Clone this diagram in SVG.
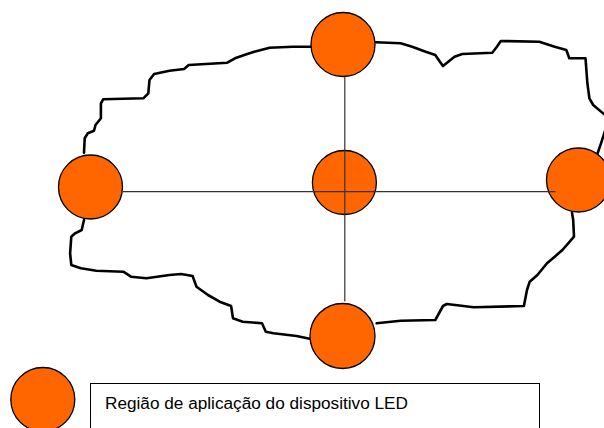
<svg xmlns="http://www.w3.org/2000/svg" width="604" height="428" viewBox="0 0 604 428">
<style>
.led{fill:#FF6600;stroke:#000;stroke-width:1.3}
.outline{fill:none;stroke:#000;stroke-width:2.6;stroke-linejoin:round;stroke-linecap:round}
.axis{fill:none;stroke:#333;stroke-width:1.2}
.lbl{font-family:"Liberation Sans",Arial,sans-serif;font-size:16px;fill:#000}
</style>
<rect width="604" height="428" fill="#fff"/>
<g id="outline">
<path class="outline" d="M311,46.7 L292.8,46.7 L269.6,47.7 L254.2,51.7 L246.5,54.3 L235,58.3 L227.3,62.7 L188.7,65 L184.1,69 L169.5,70.7 L154.1,74 L149.5,80 L148.3,93.3 L143.3,98.3 L103.2,99.3 L100.9,103.3 L100.9,118.3 L95.5,125 L94,130.7 L87.8,133.3 L84.7,138.3 L84,152.7"/>
<path class="outline" d="M84,220 L81.7,230 L75.1,233.3 L71.3,236.7 L70.1,253.3 L71.3,265 L80.9,268.3 L96.3,270.7 L123.3,271.7 L131,276.7 L146.4,278.3 L169.5,275 L181,274 L192.6,276 L196.5,286.7 L208,295 L219.6,301.7 L231.1,306 L233,318.3 L242.7,321.7 L262,323.3 L265.8,331.7 L273.5,333.3 L296.6,336 L312,339.3 L315.9,340 L315.9,331.7"/>
<path class="outline" d="M376.7,323.3 L400.6,320.7 L435.3,320 L443,306 L446.8,304 L473.8,307.3 L523.9,306 L527,290 L529.7,281.7 L537.4,275 L547,263.3 L554.7,256.7 L562.4,250 L568.2,243.3 L574,236.7 L573.2,220 L572,212.7"/>
<path class="outline" d="M597,155 L601,143.3 L605,131"/>
<path class="outline" d="M605,115 L593.2,105 L589.4,98.3 L587.4,83.3 L585.5,58.3 L569.3,58.3 L566.3,50 L554.7,46.7 L539.3,41.7 L500.8,41 L496.9,46.7 L492.3,52.7 L462.3,54 L454.5,56.7 L443,66 L439.9,61.7 L435.3,55 L425.7,51.7 L412.2,46.7 L400.6,43.3 L375.6,42.3"/>
</g>
<g id="led-top"><circle class="led" cx="343" cy="44.5" r="32"/></g>
<g id="led-center"><circle class="led" cx="344.4" cy="182.5" r="32"/></g>
<g id="led-left"><circle class="led" cx="90.5" cy="187" r="32"/></g>
<g id="led-right"><circle class="led" cx="578.5" cy="180" r="32"/></g>
<g id="led-bottom"><circle class="led" cx="342.5" cy="336" r="32.5"/></g>
<g id="connectors">
<line class="axis" x1="344.8" y1="76.5" x2="344.8" y2="301.5"/>
<line class="axis" x1="122.5" y1="191.7" x2="555.5" y2="191.7"/>
</g>
<g id="legend">
<circle class="led" cx="42.8" cy="399.5" r="32"/>
<rect x="90.5" y="383.5" width="449" height="60" fill="#fff" stroke="#000" stroke-width="1"/>
<text class="lbl" x="105" y="409.3" textLength="303" lengthAdjust="spacingAndGlyphs">Região de aplicação do dispositivo LED</text>
</g>
</svg>
